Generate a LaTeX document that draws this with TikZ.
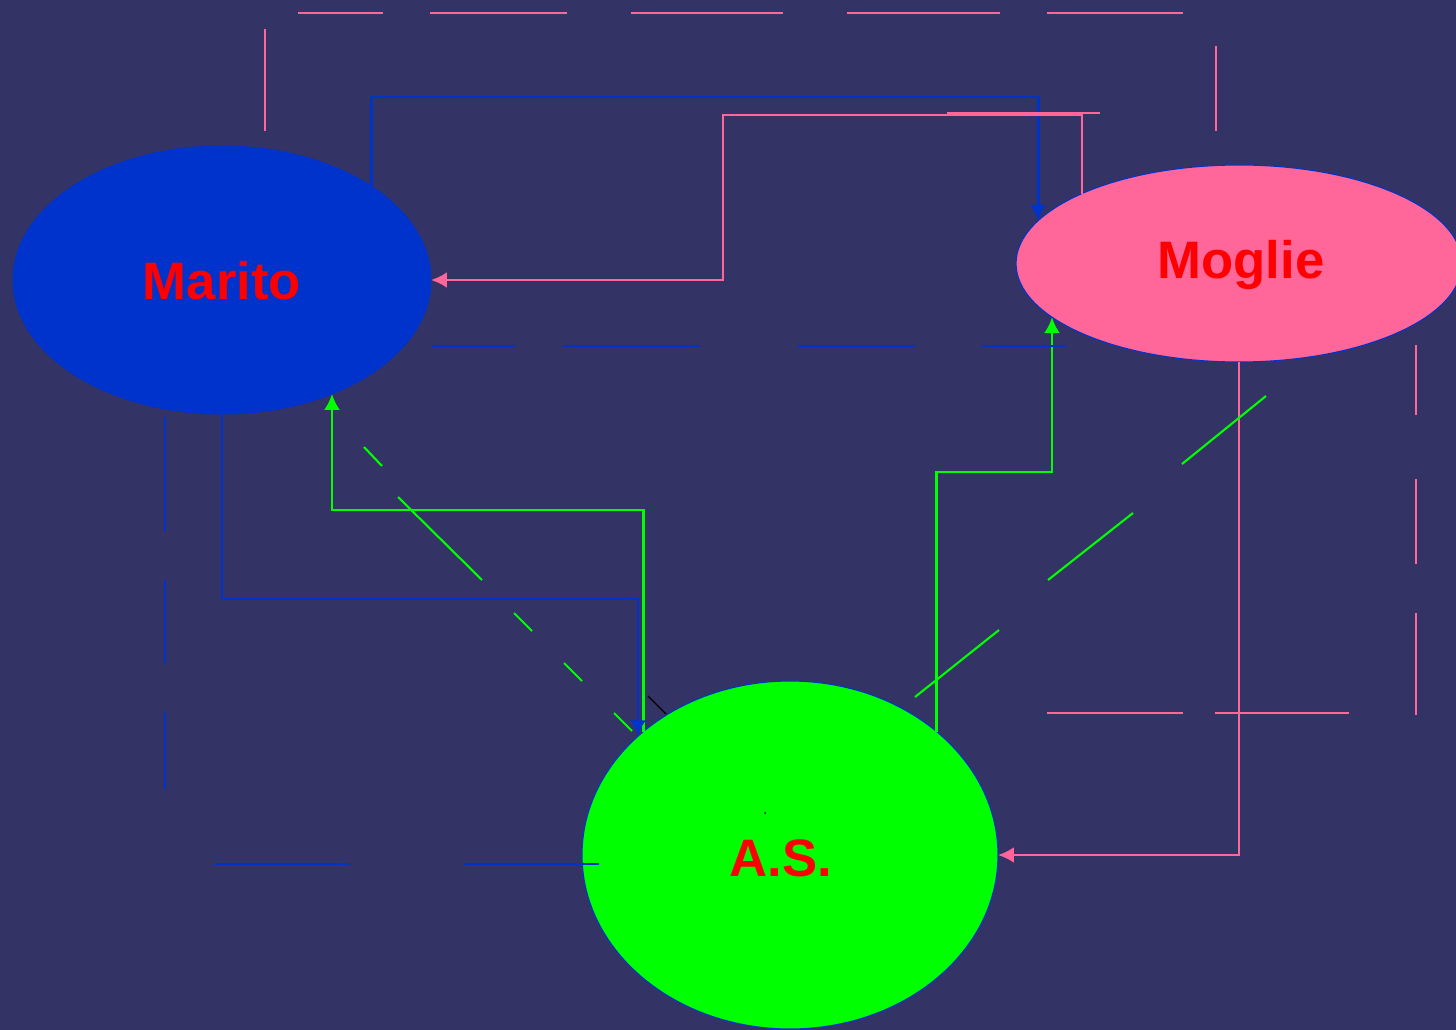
\documentclass[tikz,border=0pt]{standalone}
\usepackage{fontspec}
\setmainfont{Liberation Sans}
\usetikzlibrary{shapes.geometric, arrows.meta, calc}

\definecolor{bgblue}{HTML}{333366}
\definecolor{mblue}{HTML}{0033CC}
\definecolor{wpink}{HTML}{FF6699}
\definecolor{asgreen}{HTML}{00FF00}
\definecolor{lblred}{HTML}{FF0000}

\begin{document}
\begin{tikzpicture}[x=0.02cm, y=-0.02cm, >={Latex[length=0.32cm, width=0.32cm]},
    person/.style={ellipse, draw=mblue, line width=0.6pt, inner sep=0pt, outer sep=0pt},
    wholbl/.style={font=\fontsize{30}{30}\selectfont\bfseries, text=lblred, inner sep=0pt},
    link/.style={line width=1.6pt, ->},
    bound/.style={line width=1.2pt}]

    \fill[bgblue] (0,0) rectangle (1456,1030);
    \useasboundingbox (0,0) rectangle (1456,1030);

    \node[person, fill=mblue, minimum width=8.36cm, minimum height=5.36cm] (marito) at (222,280) {};
    \node[person, fill=wpink, minimum width=8.92cm, minimum height=3.94cm] (moglie) at (1239,263.5) {};
    \node[person, fill=asgreen, minimum width=8.32cm, minimum height=6.96cm] (as) at (790,855) {};
    \node[wholbl] (marito-lbl) at (222,281) {Marito};
    \node[wholbl] (moglie-lbl) at (1241,265) {Moglie};
    \node[wholbl] (as-lbl) at (781,858) {A.S.};

    \draw[link, mblue] (marito.32) |- (moglie.168 |- 0,97) -- (moglie.168);
    \draw[link, wpink] (moglie.156) |- (723,115) |- (marito.east);
    \draw[link, asgreen] (as.140) |- (marito.314 |- 0,510) -- (marito.314);
    \draw[link, asgreen] (as.40) |- (moglie.196 |- 0,472) -- (moglie.196);
    \draw[link, mblue] (marito.south) |- (as.142 |- 0,599) -- (as.142);
    \draw[link, wpink] (moglie.south) |- (as.east);

    \foreach \xa/\xb in {298/383, 430/567, 631/783, 847/1000, 1047/1183}
        \draw[bound, wpink] (\xa,13) -- (\xb,13);
    \draw[bound, wpink] (265,29) -- (265,131);
    \draw[bound, wpink] (1216,46) -- (1216,131);
    \draw[bound, wpink] (947,113) -- (1100,113);
    \foreach \ya/\yb in {345/415, 479/564, 613/715}
        \draw[bound, wpink] (1416,\ya) -- (1416,\yb);
    \foreach \xa/\xb in {1047/1183, 1215/1349}
        \draw[bound, wpink] (\xa,713) -- (\xb,713);

    \foreach \xa/\xb in {432/515, 563/700, 798/915, 982/1066}
        \draw[bound, mblue] (\xa,346) -- (\xb,346);
    \foreach \ya/\yb in {417/531, 580/664, 712/789}
        \draw[bound, mblue] (165,\ya) -- (165,\yb);
    \foreach \xa/\xb in {214/349, 464/599}
        \draw[bound, mblue] (\xa,864) -- (\xb,864);

    \foreach \xa/\ya/\xb/\yb in {364/447/382/466, 398/497/482/580, 514/613/532/631, 564/663/582/681, 614/713/632/731}
        \draw[bound, asgreen] (\xa,\ya) -- (\xb,\yb);
    \foreach \xa/\ya/\xb/\yb in {1266/396/1182/464, 1133/513/1048/580, 999/630/915/697}
        \draw[bound, asgreen] (\xa,\ya) -- (\xb,\yb);

    \draw[black, line width=0.8pt] (648,696) -- (666,714);
    \fill[black] (765,813) circle (1);
\end{tikzpicture}
\end{document}
